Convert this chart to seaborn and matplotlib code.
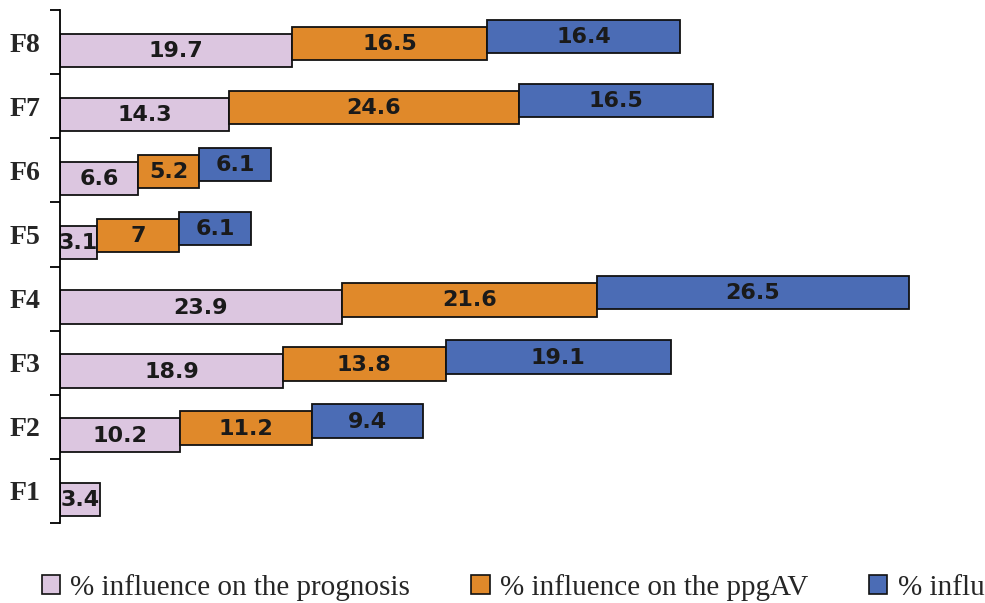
import numpy as np
import pandas as pd
import seaborn as sns
from matplotlib import pyplot as plt
from matplotlib.patches import Patch

# data (top to bottom as shown)
factors = ["F8", "F7", "F6", "F5", "F4", "F3", "F2", "F1"]
prognosis = [19.7, 14.3, 6.6, 3.1, 23.9, 18.9, 10.2, 3.4]
ppgav = [16.5, 24.6, 5.2, 7.0, 21.6, 13.8, 11.2, np.nan]
third = [16.4, 16.5, 6.1, 6.1, 26.5, 19.1, 9.4, np.nan]

series_names = [
    "% influence on the prognosis",
    "% influence on the ppgAV",
    "% influence on the outcome",
]
colors = ["#DCC6E0", "#E0892A", "#4B6CB5"]
# vertical shift of each segment (staircase look), in category units
shifts = [0.13, 0.02, -0.09]

sns.set_style("white")
fig = plt.figure(figsize=(9.85, 6.03), dpi=100)
ax = fig.add_axes([60 / 985, 80 / 603, 920 / 985, 513 / 603])

df = pd.DataFrame({"factor": factors, "s0": prognosis, "s1": ppgav, "s2": third})
left = np.zeros(len(factors))

for col, color, dy in zip(["s0", "s1", "s2"], colors, shifts):
    n_before = len(ax.patches)
    sns.barplot(data=df, x=col, y="factor", order=factors, orient="h",
                color=color, edgecolor="#111111", linewidth=1.3,
                width=0.52, saturation=1, ax=ax)
    vals = df[col].to_numpy()
    for p in ax.patches[n_before:]:
        i = int(round(p.get_y() + p.get_height() / 2))
        if np.isnan(vals[i]):
            p.set_visible(False)
            continue
        p.set_x(left[i])
        p.set_y(p.get_y() + dy)
        ax.text(left[i] + vals[i] / 2, i + dy + 0.01, f"{vals[i]:g}",
                ha="center", va="center", fontsize=16, fontweight="bold",
                color="#1a1a1a", family="DejaVu Sans")
    left = left + np.nan_to_num(vals)

ax.set_xlim(0, 78)
ax.set_ylim(7.5, -0.5)
ax.set_xlabel("")
ax.set_ylabel("")
ax.set_xticks([])
ax.set_yticks(range(len(factors)))
ax.set_yticklabels(factors, fontfamily="Liberation Serif", fontweight="bold", fontsize=20)
ax.tick_params(axis="y", which="major", left=False, length=0, pad=14)
ax.set_yticks(np.arange(-0.5, 8, 1), minor=True)
ax.tick_params(axis="y", which="minor", left=True, length=7, width=1.3,
               direction="out", color="black")

for s in ["top", "right", "bottom"]:
    ax.spines[s].set_visible(False)
ax.spines["left"].set_color("black")
ax.spines["left"].set_linewidth(1.3)

handles = [Patch(facecolor=c, edgecolor="#111111", linewidth=1.2) for c in colors]
fig.legend(handles, series_names, loc="center left", bbox_to_anchor=(42 / 985, 0.026),
           ncol=3, frameon=False, prop={"family": "Liberation Serif", "size": 21},
           handlelength=0.62, handleheight=0.6, handletextpad=0.35,
           columnspacing=2.1, borderaxespad=0, borderpad=0)

fig.savefig("out.png", dpi=100)
